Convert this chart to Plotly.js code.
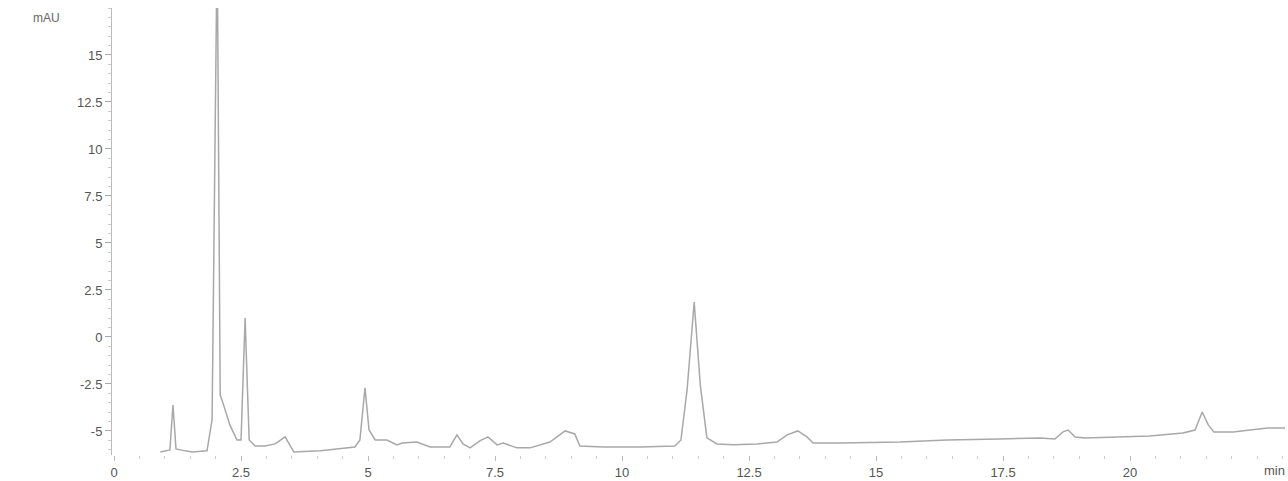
<!DOCTYPE html>
<html>
<head>
<meta charset="utf-8">
<script src="https://cdn.plot.ly/plotly-3.0.1.min.js"></script>
<style>html,body{margin:0;padding:0;background:#fff}#chart{width:1288px;height:481px}</style>
</head>
<body>
<div id="chart"></div>
<script>
// Retention time (min)
const timeMin = [0.91,1.10,1.16,1.22,1.40,1.54,1.83,1.93,2.03,2.09,2.15,2.28,2.42,2.50,2.58,2.66,2.78,2.97,3.17,3.37,3.48,3.54,4.06,4.45,4.74,4.84,4.94,5.02,5.14,5.37,5.57,5.67,5.96,6.22,6.61,6.75,6.87,7.01,7.20,7.36,7.54,7.66,7.93,8.19,8.58,8.88,9.07,9.17,9.63,10.35,11.04,11.16,11.28,11.42,11.54,11.67,11.87,12.19,12.66,13.05,13.25,13.46,13.64,13.76,14.29,15.47,16.40,17.44,18.23,18.52,18.68,18.78,18.92,19.11,20.39,21.04,21.28,21.42,21.54,21.65,22.03,22.70,23.05];
// Absorbance (mAU)
const absorbance = [-6.12,-6.01,-3.62,-5.96,-6.06,-6.12,-6.06,-4.4,21.0,-3.09,-3.56,-4.68,-5.48,-5.48,1.01,-5.48,-5.80,-5.80,-5.69,-5.32,-5.85,-6.12,-6.06,-5.96,-5.85,-5.48,-2.71,-4.95,-5.48,-5.48,-5.74,-5.64,-5.59,-5.85,-5.85,-5.21,-5.69,-5.90,-5.53,-5.32,-5.74,-5.64,-5.90,-5.90,-5.59,-5.00,-5.16,-5.80,-5.85,-5.85,-5.80,-5.48,-2.82,1.86,-2.55,-5.37,-5.69,-5.74,-5.69,-5.59,-5.21,-5.00,-5.32,-5.64,-5.64,-5.59,-5.48,-5.43,-5.37,-5.43,-5.05,-4.95,-5.32,-5.37,-5.27,-5.11,-4.95,-3.99,-4.68,-5.05,-5.05,-4.84,-4.84];
// Axis ticks
const xTickVals = [0,2.5,5,7.5,10,12.5,15,17.5,20];
const xTickText = ["0","2.5","5","7.5","10","12.5","15","17.5","20"];
const yTickVals = [-5,-2.5,0,2.5,5,7.5,10,12.5,15];
const yTickText = ["-5","-2.5","0","2.5","5","7.5","10","12.5","15"];

const trace = {
  x: timeMin, y: absorbance, type: 'scatter', mode: 'lines',
  line: {color: '#a8a8a8', width: 1.5}, hoverinfo: 'x+y'
};

const layout = {
  width: 1288, height: 481,
  margin: {l: 112, r: 3, t: 8, b: 26},
  paper_bgcolor: '#ffffff', plot_bgcolor: '#ffffff',
  showlegend: false,
  font: {family: 'Liberation Sans, Arial, sans-serif', size: 13, color: '#555'},
  xaxis: {
    range: [-0.04, 23.05], showgrid: false, zeroline: false,
    showline: false, ticks: 'outside', ticklen: 5, tickcolor: '#bbb',
    tickvals: xTickVals, ticktext: xTickText,
    minor: {ticks: 'outside', ticklen: 3, dtick: 0.5, tickcolor: '#ccc'},
    tickfont: {size: 13, color: '#555'}
  },
  yaxis: {
    range: [-6.28, 17.5], showgrid: false, zeroline: false,
    showline: true, linecolor: '#bbb', linewidth: 1,
    ticks: 'outside', ticklen: 6, tickcolor: '#aaa',
    tickvals: yTickVals, ticktext: yTickText,
    minor: {ticks: 'outside', ticklen: 3, dtick: 0.5, tickcolor: '#ccc'},
    tickfont: {size: 13, color: '#555'}
  },
  annotations: [
    {text: 'mAU', xref: 'paper', yref: 'paper', x: -0.043, y: 0.978, xanchor: 'right', yanchor: 'middle', showarrow: false, font: {size: 12, color: '#666'}},
    {text: 'min', xref: 'paper', yref: 'paper', x: 1.002, y: -0.034, xanchor: 'right', yanchor: 'middle', showarrow: false, font: {size: 13, color: '#555'}}
  ]
};

Plotly.newPlot('chart', [trace], layout, {displayModeBar: false, staticPlot: true});
</script>
</body>
</html>
